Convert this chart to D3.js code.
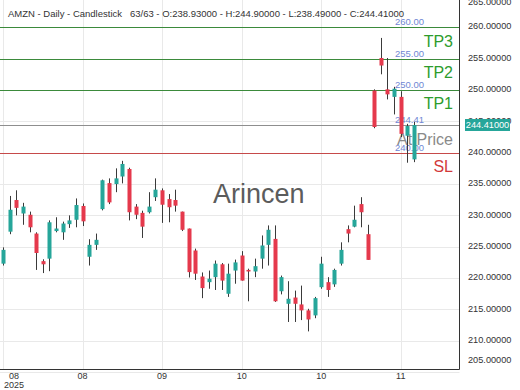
<!DOCTYPE html>
<html>
<head>
<meta charset="utf-8">
<script src="https://cdn.jsdelivr.net/npm/d3@7"></script>
<style>
  body { margin: 0; background: #fff; }
  svg { display: block; font-family: "Liberation Sans", Arial, sans-serif; }
</style>
</head>
<body>
<svg id="chart" width="520" height="390"></svg>
<script>
// AMZN daily, 63 bars
var dates = ["2025-08-12","2025-08-13","2025-08-14","2025-08-15","2025-08-18","2025-08-19","2025-08-20","2025-08-21","2025-08-22",
  "2025-08-25","2025-08-26","2025-08-27","2025-08-28","2025-08-29","2025-09-02","2025-09-03","2025-09-04","2025-09-05",
  "2025-09-08","2025-09-09","2025-09-10","2025-09-11","2025-09-12","2025-09-15","2025-09-16","2025-09-17","2025-09-18",
  "2025-09-19","2025-09-22","2025-09-23","2025-09-24","2025-09-25","2025-09-26","2025-09-29","2025-09-30","2025-10-01",
  "2025-10-02","2025-10-03","2025-10-06","2025-10-07","2025-10-08","2025-10-09","2025-10-10","2025-10-13","2025-10-14",
  "2025-10-15","2025-10-16","2025-10-17","2025-10-20","2025-10-21","2025-10-22","2025-10-23","2025-10-24","2025-10-27",
  "2025-10-28","2025-10-29","2025-10-30","2025-10-31","2025-11-03","2025-11-04","2025-11-05","2025-11-06","2025-11-07"]

var opens  = [222.3,227.4,232.45,230.3,230.1,227.1,222.7,223.1,227.5,227.3,228.6,229.3,231.5,223.4,225.3,231.0,235.15,235.0,
  236.2,237.4,231.4,230.4,230.5,232.9,234.0,232.6,232.45,230.6,227.9,224.4,220.25,219.35,220.15,222.2,217.5,221.2,
  223.6,221.3,221.05,223.1,225.3,226.25,217.9,215.9,216.9,215.8,214.85,214.05,218.55,219.35,219.0,222.3,227.8,228.2,
  231.8,227.0,249.9,255.1,250.1,248.9,248.9,242.7,238.93]
var highs  = [224.9,233.1,234.0,232.0,230.6,227.3,223.0,229.2,229.7,229.0,230.0,232.7,231.9,226.2,227.1,235.7,235.9,237.5,
  238.7,237.6,231.8,230.75,233.7,235.9,234.3,233.4,234.1,230.6,227.9,224.7,220.9,221.2,222.8,222.4,222.3,222.95,
  224.3,221.5,223.1,226.8,228.4,228.4,220.4,219.5,218.0,218.8,215.1,217.0,223.4,220.15,221.5,225.7,228.4,231.55,
  232.9,228.5,250.1,258.3,255.1,250.5,249.8,244.6,244.90]
var lows   = [222.0,227.0,230.0,228.5,227.3,221.3,220.8,221.1,227.3,226.1,228.0,228.1,228.3,222.0,224.5,230.8,231.8,233.7,
  235.1,229.2,229.4,226.4,230.3,232.3,228.8,228.9,230.6,227.5,220.1,219.7,216.8,218.3,218.1,218.1,217.0,219.1,
  219.6,216.3,220.15,221.5,222.0,216.2,217.4,213.0,213.0,213.3,211.5,213.6,218.3,217.0,218.6,222.0,225.7,228.1,
  228.1,222.9,243.9,252.5,248.5,246.1,242.5,238.4,238.49]
var closes = [224.5,230.9,231.2,231.4,228.1,224.0,222.2,228.9,227.9,228.7,229.2,231.65,229.05,225.3,226.1,235.6,232.07,235.9,
  238.2,230.5,230.1,228.2,231.4,234.1,231.7,231.3,231.55,227.7,220.95,220.7,218.4,219.9,222.3,219.6,220.7,222.5,
  219.6,221.05,221.9,225.2,227.7,216.3,220.15,216.7,215.9,214.85,213.4,216.8,222.3,218.1,221.3,224.5,227.1,229.3,
  230.5,222.9,244.1,253.9,249.3,250.2,243.0,244.25,244.41]

// trade levels
var levelNames  = ["TP3","TP2","TP1","At Price","SL"]
var levelValues = [260.00,255.00,250.00,244.41,240.00]
var levelKinds  = ["tp","tp","tp","price","sl"]

var yTicks = d3.range(205, 266, 5)
var xTickIndex = [0,12,24,36,48,60]

var bars = dates.map(function(d, i) {
  return {date: d3.timeParse("%Y-%m-%d")(d), o: opens[i], h: highs[i], l: lows[i], c: closes[i]}
})

var W = 520, H = 390
var plotRight = 459.5, plotBottom = 369.5

var svg = d3.select("#chart")

var x = d3.scalePoint().domain(d3.range(bars.length)).range([3, 414])
var y = d3.scaleLinear().domain([205.5, 264.35]).range([369, 0])

var up = "#26a69a", down = "#e5394c", wick = "#3a3a3a"
var kindColour = {tp: "#3b8a3b", price: "#8e8e8e", sl: "#c64a4a"}
var kindText = {tp: "#2d9c2d", price: "#8a8a8a", sl: "#d23a3a"}

// grid
var grid = svg.append("g")
grid.selectAll(".hgrid").data(yTicks).enter().append("line")
    .attr("x1", 0).attr("x2", plotRight)
    .attr("y1", function(d) { return Math.round(y(d)) + 0.5 })
    .attr("y2", function(d) { return Math.round(y(d)) + 0.5 })
    .style("stroke", "#e9e9e9")
grid.selectAll(".vgrid").data(xTickIndex).enter().append("line")
    .attr("x1", function(d) { return Math.round(x(d)) + 0.5 })
    .attr("x2", function(d) { return Math.round(x(d)) + 0.5 })
    .attr("y1", 0).attr("y2", plotBottom)
    .style("stroke", "#e9e9e9")

// watermark
svg.append("text")
    .attr("x", 213).attr("y", 203)
    .style("font-size", "27px")
    .style("fill", "#5c5c5c")
    .text("Arincen")

// level lines
var levels = levelValues.map(function(v, i) {
  return {name: levelNames[i], value: v, kind: levelKinds[i]}
})
var lv = svg.append("g")
lv.selectAll("line").data(levels).enter().append("line")
    .attr("x1", 0).attr("x2", plotRight)
    .attr("y1", function(d) { return Math.round(y(d.value)) + 0.5 })
    .attr("y2", function(d) { return Math.round(y(d.value)) + 0.5 })
    .style("stroke", function(d) { return kindColour[d.kind] })
    .style("stroke-width", 1)

// candles
var candles = svg.append("g").selectAll("g").data(bars).enter().append("g")
candles.append("line")
    .attr("x1", function(d, i) { return Math.round(x(i)) + 0.5 })
    .attr("x2", function(d, i) { return Math.round(x(i)) + 0.5 })
    .attr("y1", function(d) { return y(d.h) })
    .attr("y2", function(d) { return y(d.l) })
    .style("stroke", wick)
candles.append("rect")
    .attr("x", function(d, i) { return Math.round(x(i)) - 1.5 })
    .attr("width", 4)
    .attr("y", function(d) { return y(Math.max(d.o, d.c)) })
    .attr("height", function(d) { return Math.max(1.5, Math.abs(y(d.o) - y(d.c))) })
    .style("fill", function(d) { return d.c >= d.o ? up : down })

// level labels
lv.selectAll(".val").data(levels).enter().append("text")
    .attr("x", 395)
    .attr("y", function(d) { return y(d.value) - 2 })
    .style("font-size", "9.5px")
    .style("fill", "#7087d4")
    .text(function(d) { return d.value.toFixed(2) })
lv.selectAll(".name").data(levels).enter().append("text")
    .attr("x", 453)
    .attr("y", function(d) { return y(d.value) + 19.5 })
    .attr("text-anchor", "end")
    .style("font-size", "16px")
    .style("fill", function(d) { return kindText[d.kind] })
    .text(function(d) { return d.name })

// frame
svg.append("line").attr("x1", plotRight).attr("x2", plotRight).attr("y1", 0).attr("y2", plotBottom)
    .style("stroke", "#333")
svg.append("line").attr("x1", 0).attr("x2", plotRight).attr("y1", plotBottom).attr("y2", plotBottom)
    .style("stroke", "#333")

// right axis labels
svg.append("g").selectAll("text").data(yTicks).enter().append("text")
    .attr("x", 468)
    .attr("y", function(d) { return Math.max(2, Math.min(360, y(d) - 1)) })
    .attr("dy", "0.35em")
    .style("font-size", "9.2px")
    .style("fill", "#333")
    .text(function(d) { return d.toFixed(5) })

// last price badge
var last = bars[bars.length - 1]
svg.append("rect")
    .attr("x", 465).attr("y", Math.round(y(last.c)) - 6)
    .attr("width", 45).attr("height", 12)
    .style("fill", up)
svg.append("text")
    .attr("x", 487.5).attr("y", y(last.c))
    .attr("dy", "0.35em")
    .attr("text-anchor", "middle")
    .style("font-size", "9.2px")
    .style("fill", "#fff")
    .text(last.c.toFixed(5))

// bottom labels
var fmtMonth = d3.timeFormat("%m")
var xl = svg.append("g").selectAll("g").data(xTickIndex).enter().append("g")
xl.append("text")
    .attr("x", function(d) { return Math.max(14, x(d)) })
    .attr("y", 379)
    .attr("text-anchor", "middle")
    .style("font-size", "9px")
    .style("fill", "#333")
    .text(function(d) { return fmtMonth(bars[d].date) })
xl.filter(function(d) { return d === 0 }).append("text")
    .attr("x", 14).attr("y", 388)
    .attr("text-anchor", "middle")
    .style("font-size", "9px")
    .style("fill", "#333")
    .text(function(d) { return d3.timeFormat("%Y")(bars[d].date) })

// header
var f = d3.format(".5f")
svg.append("text")
    .attr("x", 8).attr("y", 16.5)
    .style("font-size", "9.5px")
    .style("fill", "#333")
    .attr("xml:space", "preserve")
    .text("AMZN - Daily - Candlestick   " + bars.length + "/" + bars.length +
          " - O:" + f(last.o) + " - H:" + f(last.h) + " - L:" + f(last.l) + " - C:" + f(last.c))
</script>
</body>
</html>
